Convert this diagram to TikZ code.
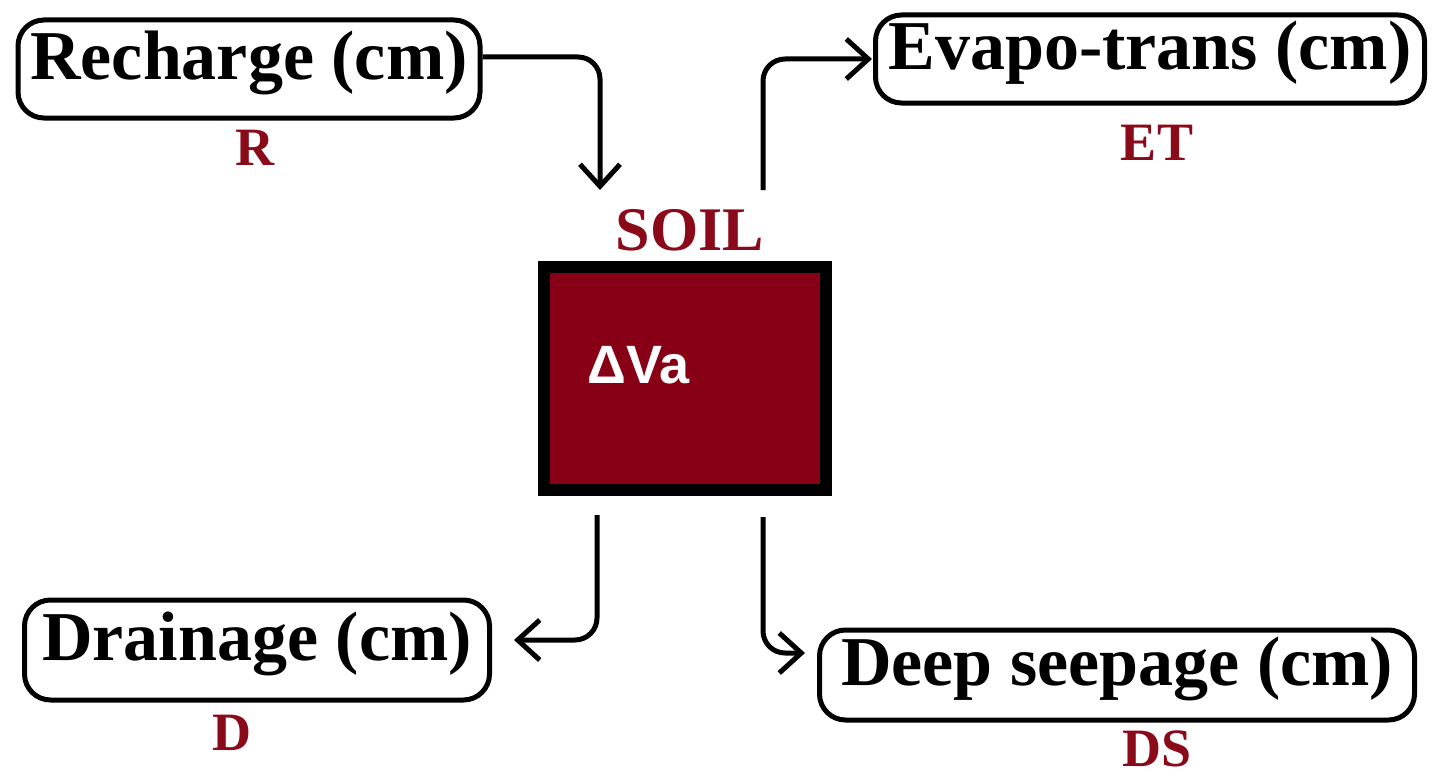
\documentclass[tikz,border=0pt]{standalone}
\usepackage{fontspec}
\setmainfont{Liberation Serif}
\newfontfamily\headsans{Liberation Sans}
\usetikzlibrary{arrows.meta}
\definecolor{soilred}{HTML}{880015}
\definecolor{labelred}{HTML}{8B0A1A}
\tikzset{
  fluxbox/.style={draw=black, line width=5pt, rounded corners=26pt, inner sep=0pt,
    text depth=27pt, font=\fontsize{70}{70}\selectfont\bfseries, text=black},
  fluxlabel/.style={inner sep=0pt, font=\fontsize{54}{54}\selectfont\bfseries, text=labelred},
  flow/.style={draw=black, line width=5pt, rounded corners=22pt,
    -{Straight Barb[length=22pt,width=40pt,line width=5pt]}},
}
\begin{document}
\begin{tikzpicture}[x=1pt,y=-1pt]
  \useasboundingbox[fill=white] (0,0) rectangle (1435,776);

  % flux boxes
  \node[fluxbox, minimum width=462pt, minimum height=98pt] (rech) at (249,69) {Recharge (cm)};
  \node[fluxbox, minimum width=549pt, minimum height=88pt] (evap) at (1150,59) {Evapo-trans (cm)};
  \node[fluxbox, minimum width=465pt, minimum height=100pt] (drain) at (257,650) {Drainage (cm)};
  \node[fluxbox, minimum width=595pt, minimum height=90pt] (deep) at (1117,675) {Deep seepage (cm)};

  % symbols under the boxes
  \node[fluxlabel] (lr) at (255,148) {R};
  \node[fluxlabel] (let) at (1157,143) {ET};
  \node[fluxlabel] (ld) at (232,733) {D};
  \node[fluxlabel] (lds) at (1157,749) {DS};

  % soil store
  \node[fluxlabel, font=\fontsize{62}{62}\selectfont\bfseries] (soiltitle) at (690,230) {SOIL};
  \node[draw=black, line width=12pt, fill=soilred, inner sep=0pt,
        minimum width=282pt, minimum height=223pt] (soil) at (685,378.5) {};
  \node[inner sep=0pt, anchor=west, text=white,
        font=\headsans\fontsize{54}{54}\selectfont\bfseries] (dva) at (587,365) {ΔVa};

  % connector end points
  \coordinate (rin) at (600,190);
  \coordinate (etout) at (763,190);
  \coordinate (dout) at (597,515);
  \coordinate (dsout) at (763,517);

  % water fluxes
  \draw[flow] ([yshift=12pt]rech.east) -| (rin);
  \draw[flow] (etout) |- ([xshift=-1pt]evap.west);
  \draw[flow, shorten >=22pt] (dout) |- ([yshift=10pt]drain.east);
  \draw[flow, shorten >=12pt] (dsout) |- ([yshift=22pt]deep.west);
\end{tikzpicture}
\end{document}
